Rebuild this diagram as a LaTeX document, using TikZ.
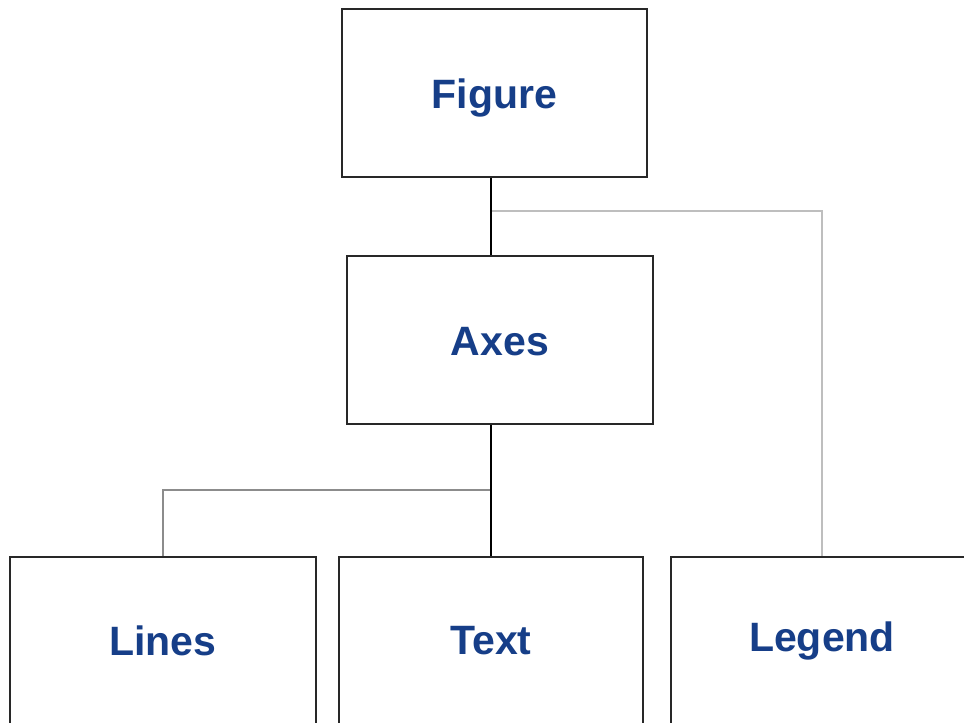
\documentclass[tikz,border=0pt]{standalone}
\usepackage{fontspec}
\setmainfont{Liberation Sans}
\definecolor{labelblue}{RGB}{22,62,136}
\definecolor{boxline}{RGB}{40,40,40}
\definecolor{lightconn}{RGB}{190,190,190}
\definecolor{midconn}{RGB}{140,140,140}
\newcommand{\lowered}[2]{\raisebox{-#1}[\height][\depth]{#2}}
\begin{document}
\begin{tikzpicture}[x=1pt,y=-1pt,
  objbox/.style={draw=boxline, line width=1.6pt, fill=white, inner sep=0pt,
    minimum height=168pt, text=labelblue,
    font=\fontsize{41}{49}\selectfont\bfseries},
  darkconn/.style={draw=black, line width=1.6pt},
  paleconn/.style={draw=lightconn, line width=2.4pt},
  thinconn/.style={draw=midconn, line width=1.4pt}]
\useasboundingbox (0,0) rectangle (964,723);
\fill[white] (0,0) rectangle (964,723);
\coordinate (j1) at (491,211);
\coordinate (j2) at (491,490);
\coordinate (j3) at (822,211);
\coordinate (j4) at (163,490);
\node[objbox, minimum width=305pt] (figure) at (494.5,93) {\lowered{5pt}{Figure}};
\node[objbox, minimum width=306pt] (axes) at (500,340) {\lowered{2pt}{Axes}};
\node[objbox, minimum width=306pt] (lines) at (163,641) {Lines};
\node[objbox, minimum width=304pt] (text) at (491,641) {Text};
\node[objbox, minimum width=302pt] (legend) at (822,641) {Legend};
\draw[paleconn] (j1) -- (j3) -- (legend.north);
\draw[thinconn] (j2) -- (j4) -- (lines.north);
\draw[darkconn] (figure.south -| text.north) -- (axes.north -| text.north);
\draw[darkconn] (axes.south -| text.north) -- (text.north);
\end{tikzpicture}
\end{document}
